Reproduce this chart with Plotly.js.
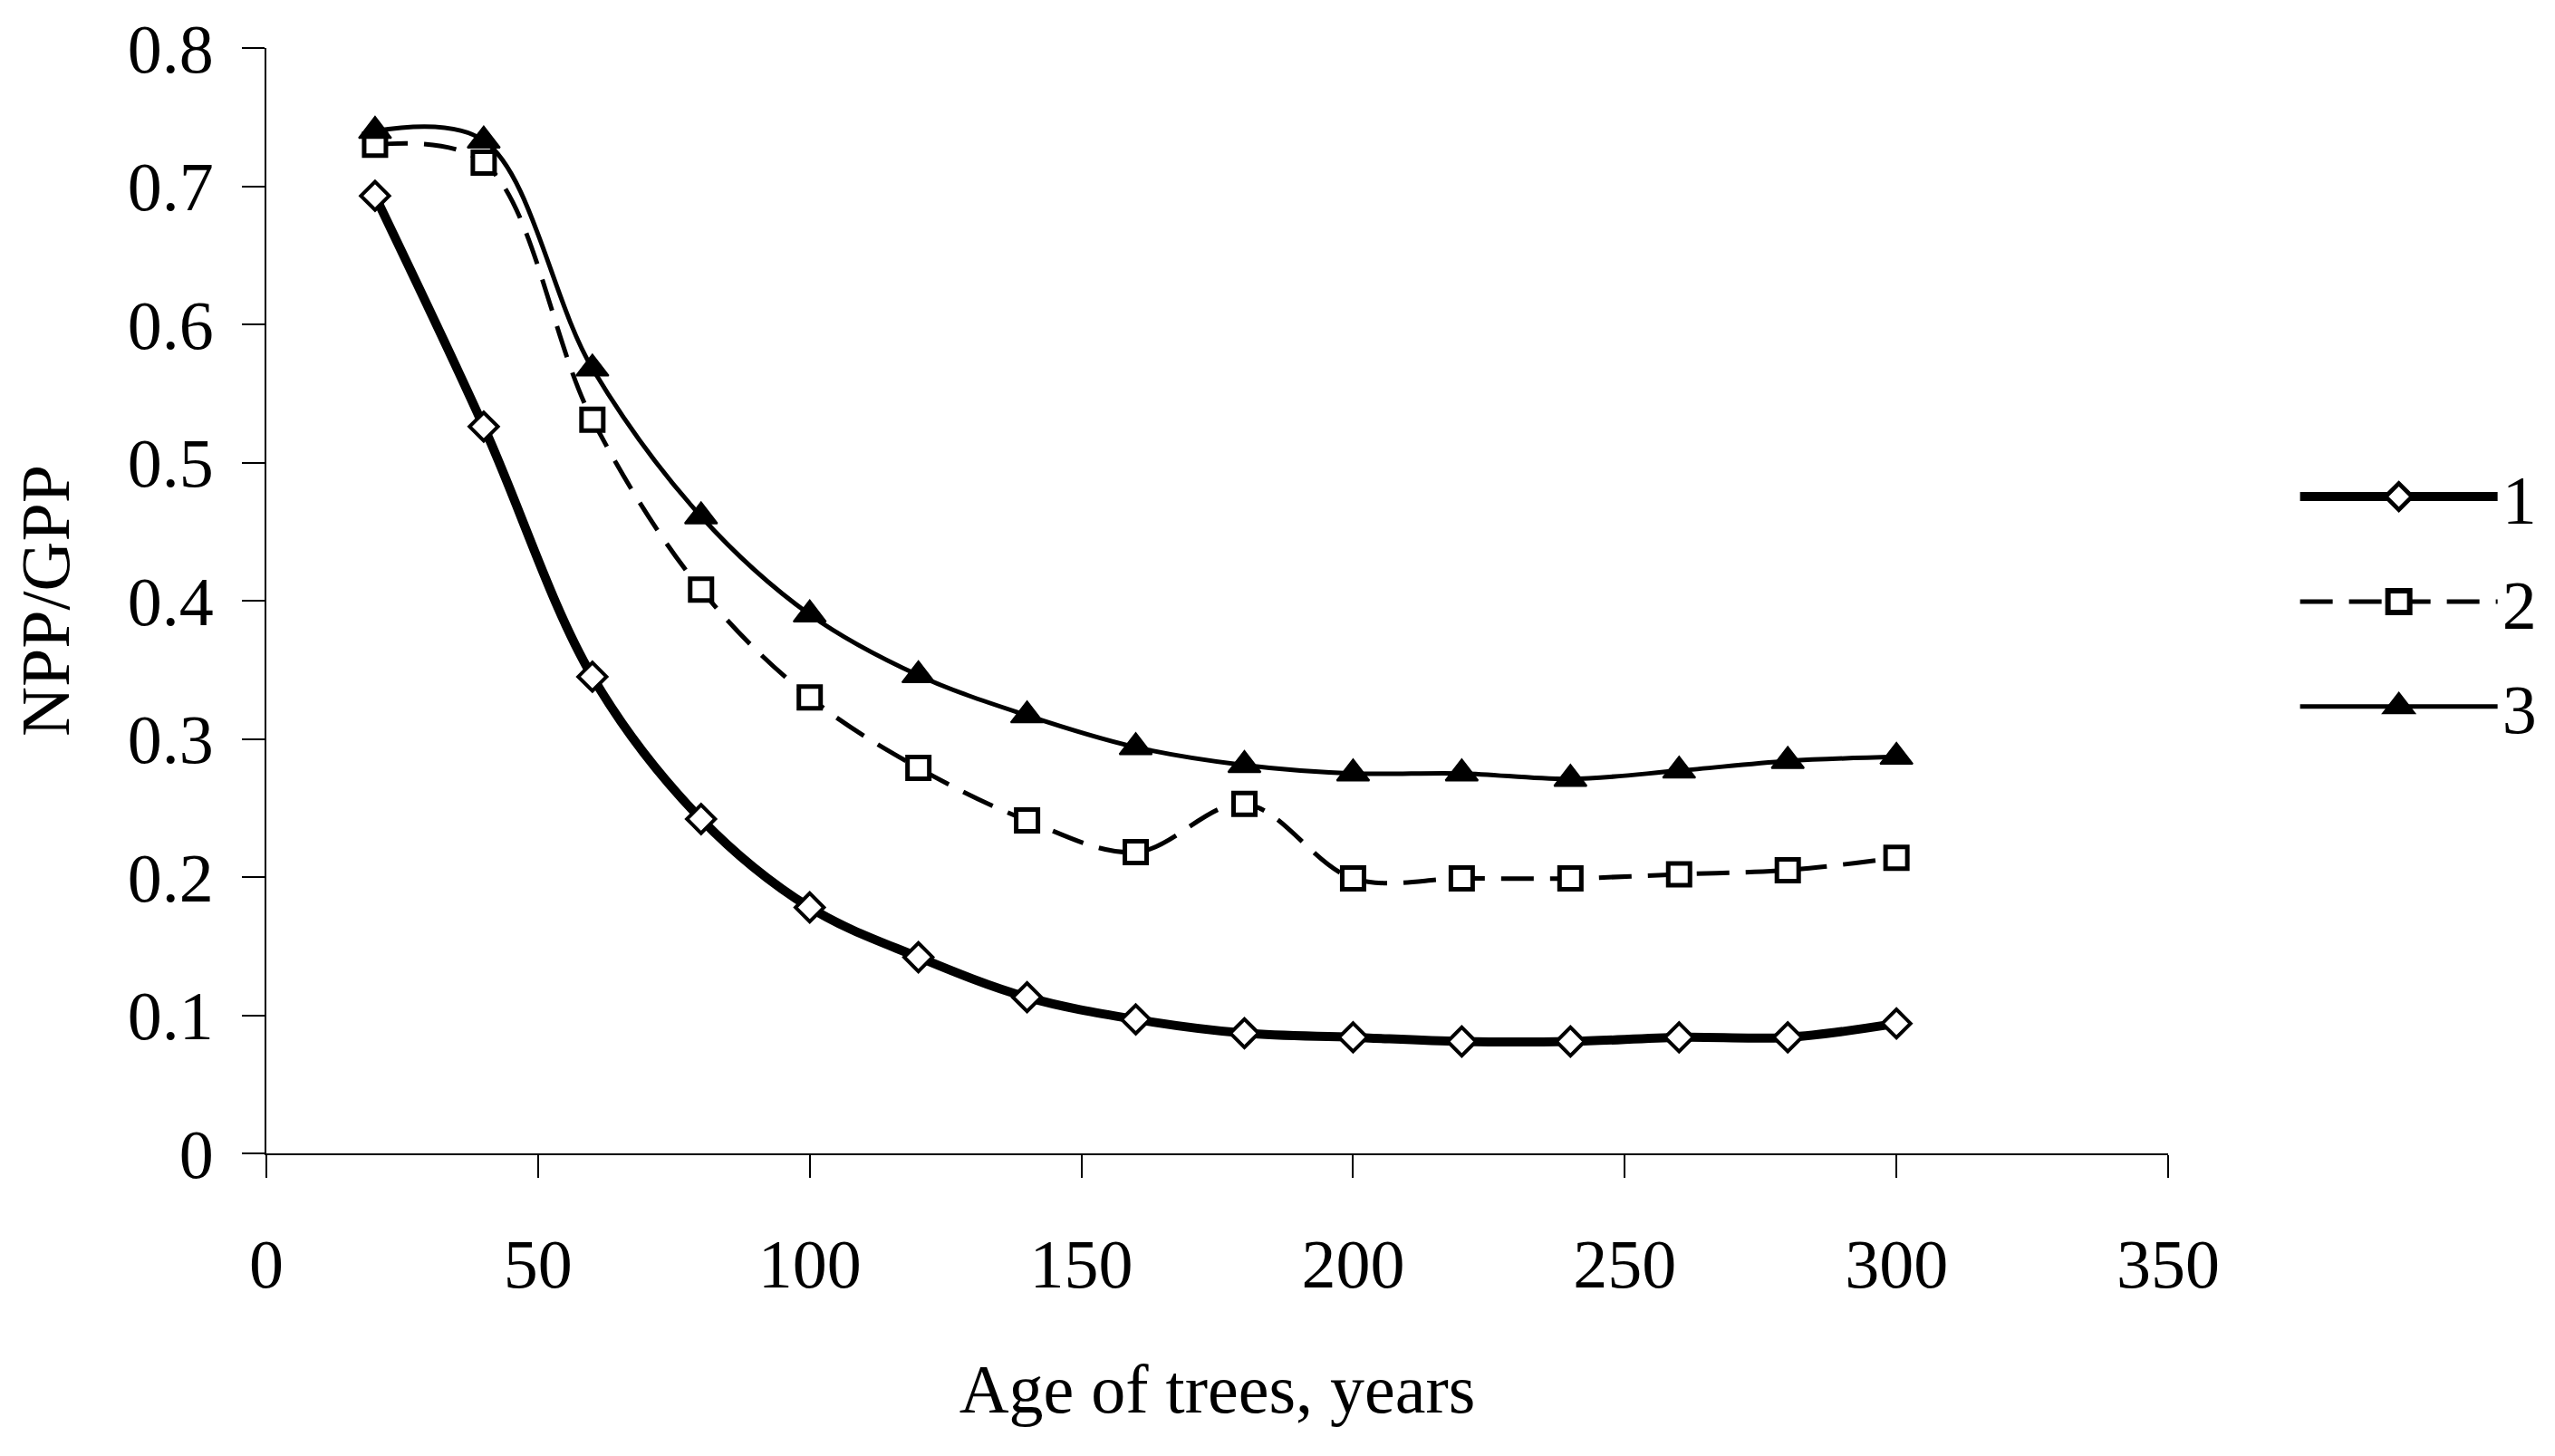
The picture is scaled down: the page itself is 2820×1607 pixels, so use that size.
<!DOCTYPE html>
<html>
<head>
<meta charset="utf-8">
<script src="https://cdn.plot.ly/plotly-3.0.1.min.js"></script>
<style>
  html, body { margin: 0; padding: 0; background: #fff; }
  #chart { width: 2820px; height: 1607px; }
</style>
</head>
<body>
<div id="chart"></div>
<script>
// Age of trees (years)
const ages = [20, 40, 60, 80, 100, 120, 140, 160, 180, 200, 220, 240, 260, 280, 300];

// NPP/GPP ratio, series 1 (open diamonds, thick line)
const series1 = [0.693, 0.526, 0.345, 0.242, 0.178, 0.142, 0.113, 0.097, 0.087, 0.084, 0.081, 0.081, 0.084, 0.084, 0.094];

// series 2 (open squares, dashed line)
const series2 = [0.730, 0.717, 0.531, 0.408, 0.330, 0.279, 0.241, 0.218, 0.253, 0.199, 0.199, 0.199, 0.202, 0.205, 0.214];

// series 3 (filled triangles, thin line)
const series3 = [0.740, 0.733, 0.568, 0.461, 0.390, 0.346, 0.317, 0.294, 0.281, 0.275, 0.275, 0.271, 0.277, 0.284, 0.287];

const seriesNames = ['1', '2', '3'];

const xTicks = [0, 50, 100, 150, 200, 250, 300, 350];
const yTicks = [0, 0.1, 0.2, 0.3, 0.4, 0.5, 0.6, 0.7, 0.8];

const serif = '"Liberation Serif", "Times New Roman", serif';

const trace1 = {
    x: ages,
    y: series1,
    name: seriesNames[0],
    legendgroup: 'g1',
    mode: 'lines+markers',
    line: { color: '#000', width: 10, shape: 'spline', smoothing: 1 },
    marker: { symbol: 'diamond', size: 24, color: '#fff', line: { color: '#000', width: 4 } },
};

const trace2 = {
    x: ages,
    y: series2,
    name: seriesNames[1],
    legendgroup: 'g2',
    mode: 'lines+markers',
    line: { color: '#000', width: 5, dash: '36px,18px', shape: 'spline', smoothing: 1 },
    marker: { symbol: 'square', size: 24, color: '#fff', line: { color: '#000', width: 5 } },
};

const trace3 = {
    x: ages,
    y: series3,
    name: seriesNames[2],
    legendgroup: 'g3',
    mode: 'lines+markers',
    line: { color: '#000', width: 5, shape: 'spline', smoothing: 1 },
    marker: { symbol: 'triangle-up', size: 31, color: '#000', line: { color: '#000', width: 2 } },
};

const layout = {
    width: 2820,
    height: 1607,
    margin: { l: 294, r: 427, t: 53, b: 334 },
    paper_bgcolor: '#fff',
    plot_bgcolor: '#fff',
    font: { family: serif, size: 76, color: '#000' },
    showlegend: true,
    xaxis: {
        range: [0, 350],
        tickvals: xTicks,
        ticks: 'outside',
        ticklen: 25,
        tickwidth: 2,
        tickcolor: '#000',
        showline: true,
        linecolor: '#000',
        linewidth: 2,
        showgrid: false,
        zeroline: false,
        ticklabelstandoff: 30,
        tickfont: { family: serif, size: 76 },
        title: { text: 'Age of trees, years', font: { family: serif, size: 76 }, standoff: 70 },
    },
    yaxis: {
        range: [0, 0.8],
        tickvals: yTicks,
        ticktext: yTicks.map(v => String(v)),
        ticks: 'outside',
        ticklen: 25,
        tickwidth: 2,
        tickcolor: '#000',
        showline: true,
        linecolor: '#000',
        linewidth: 2,
        showgrid: false,
        zeroline: false,
        ticklabelstandoff: 16,
        tickfont: { family: serif, size: 76 },
        title: { text: 'NPP/GPP', font: { family: serif, size: 76 }, standoff: 39 },
    },
    legend: {
        x: 1.067,
        xanchor: 'left',
        y: 0.499,
        yanchor: 'middle',
        bgcolor: 'rgba(0,0,0,0)',
        borderwidth: 0,
        itemwidth: 218,
        tracegroupgap: 14,
        font: { family: serif, size: 76 },
    },
};

// legend symbols are capped in size by plotly; scale them up to match the plot markers
const legendMarkerScale = [1.4, 1.5, 1.85];

Plotly.newPlot('chart', [trace1, trace2, trace3], layout, { staticPlot: true }).then(gd => {
    gd.querySelectorAll('.legend .traces').forEach((item, i) => {
        item.querySelectorAll('.legendpoints path.scatterpts').forEach(p => {
            const t = p.getAttribute('transform') || '';
            const s = legendMarkerScale[i] || 1;
            p.setAttribute('transform', t + ' scale(' + s + ')');
            const sw = parseFloat(p.style.strokeWidth);
            if (sw) p.style.strokeWidth = (sw / s * 1.2) + 'px';
        });
    });
});
</script>
</body>
</html>
